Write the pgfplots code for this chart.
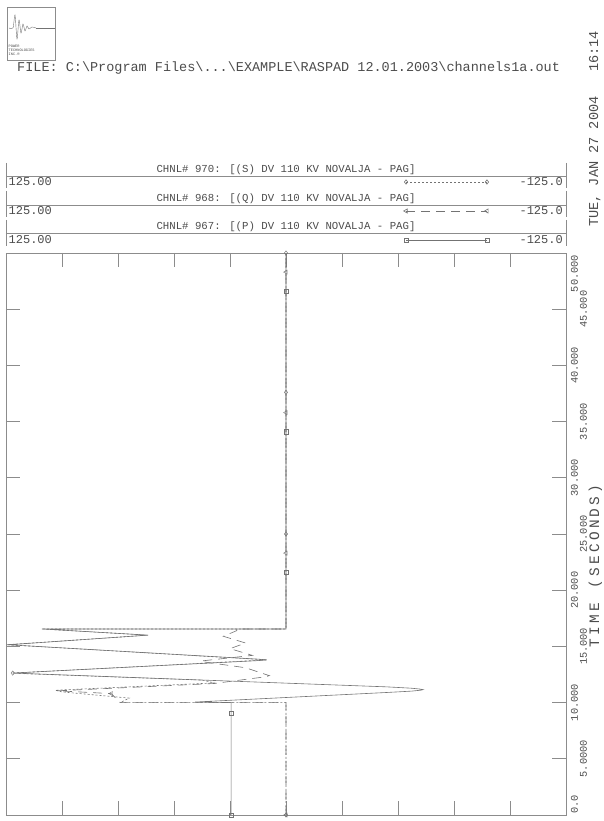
\documentclass[border=0pt]{standalone}
\usepackage{pgfplots}
\pgfplotsset{compat=1.18}
\usepackage{fontspec}
\setmainfont{Liberation Mono}
\definecolor{fr}{gray}{0.55}
\definecolor{cv}{gray}{0.45}
\definecolor{tx}{gray}{0.3}
\newcommand\ls[1]{#1\kern3.2pt}
\begin{document}
\begin{tikzpicture}[x=1pt,y=1pt]
\path[use as bounding box] (0,0) rectangle (604,821);
% logo
\draw[fr,line width=0.5pt] (7,761) rectangle (55,814);
\draw[cv,line width=0.4pt] plot[smooth] coordinates {(9,793)(13,793)(15,806)(17,782)(19,801)(21,788)(23,797)(25,790)(27,795)(29,792)(32,794)(36,793)};
\draw[cv,line width=0.4pt] (36,793) -- (55,793);
\node[tx,anchor=north west,inner sep=0pt,align=left,font=\fontsize{3.6}{4.2}\selectfont] at (8.5,776) {POWER\\TECHNOLOGIES\\INC.\textregistered};
% file line
\node[tx,anchor=base west,inner sep=0pt,font=\fontsize{13.5}{15}\selectfont] at (17,749) {FILE: C:\textbackslash{}Program Files\textbackslash{}...\textbackslash{}EXAMPLE\textbackslash{}RASPAD 12.01.2003\textbackslash{}channels1a.out};
% date
\node[tx,rotate=90,anchor=base,inner sep=0pt,font=\fontsize{13.6}{15}\selectfont] at (598,692) {TUE, JAN 27 2004~~~16:14};
% time label
\node[tx,rotate=90,anchor=base,inner sep=0pt,font=\fontsize{14.4}{16}\selectfont] at (599,255) {\ls{T}\ls{I}\ls{M}\ls{E}\ls{~}\ls{(}\ls{S}\ls{E}\ls{C}\ls{O}\ls{N}\ls{D}\ls{S})};

% channel strips
\begin{axis}[at={(6pt,568pt)},anchor=south west,scale only axis,width=560pt,height=93pt,
 x dir=reverse,xmin=-125,xmax=125,y dir=reverse,ymin=160,ymax=253,hide axis,clip=false]
\draw[fr,line width=0.6pt] (axis cs:125,163) -- (axis cs:125,188);
\draw[fr,line width=0.6pt] (axis cs:-125,163) -- (axis cs:-125,188);
\draw[fr,line width=0.6pt] (axis cs:125,176) -- (axis cs:-125,176);
\draw[fr,line width=0.6pt] (axis cs:125,191) -- (axis cs:125,217);
\draw[fr,line width=0.6pt] (axis cs:-125,191) -- (axis cs:-125,217);
\draw[fr,line width=0.6pt] (axis cs:125,205) -- (axis cs:-125,205);
\draw[fr,line width=0.6pt] (axis cs:125,220) -- (axis cs:125,246);
\draw[fr,line width=0.6pt] (axis cs:-125,220) -- (axis cs:-125,246);
\draw[fr,line width=0.6pt] (axis cs:125,233) -- (axis cs:-125,233);
\node[tx,font=\fontsize{10.7}{12}\selectfont] at (axis cs:0,170) {CHNL\# 970: [(S) DV 110 KV NOVALJA - PAG]};
\node[tx,font=\fontsize{10.7}{12}\selectfont] at (axis cs:0,199) {CHNL\# 968: [(Q) DV 110 KV NOVALJA - PAG]};
\node[tx,font=\fontsize{10.7}{12}\selectfont] at (axis cs:0,227) {CHNL\# 967: [(P) DV 110 KV NOVALJA - PAG]};
\node[tx,anchor=west,inner sep=2.5pt,font=\fontsize{12}{13}\selectfont] at (axis cs:125,182) {125.00};
\node[tx,anchor=west,inner sep=2.5pt,font=\fontsize{12}{13}\selectfont] at (axis cs:125,211) {125.00};
\node[tx,anchor=west,inner sep=2.5pt,font=\fontsize{12}{13}\selectfont] at (axis cs:125,240) {125.00};
\node[tx,anchor=east,inner sep=3pt,font=\fontsize{12}{13}\selectfont] at (axis cs:-125,182) {-125.0};
\node[tx,anchor=east,inner sep=3pt,font=\fontsize{12}{13}\selectfont] at (axis cs:-125,211) {-125.0};
\node[tx,anchor=east,inner sep=3pt,font=\fontsize{12}{13}\selectfont] at (axis cs:-125,240) {-125.0};
\addplot[cv,line width=0.6pt,dash pattern=on 2pt off 2pt,mark=diamond,mark size=2.2pt,mark options={solid}] coordinates {(-53.6,182) (-89.7,182)};
\addplot[cv,line width=0.6pt,dash pattern=on 9pt off 6pt,mark=triangle,mark size=2.4pt,mark options={solid,rotate=90}] coordinates {(-53.6,211) (-89.7,211)};
\addplot[cv,line width=0.6pt,mark=square,mark size=2.1pt] coordinates {(-53.6,240) (-89.7,240)};
\end{axis}

% main plot
\begin{axis}[at={(6pt,6pt)},anchor=south west,scale only axis,width=560pt,height=562pt,
 x dir=reverse,xmin=-125,xmax=125,ymin=0,ymax=50,
 xtick={-100,-75,...,100},xticklabels={},
 ytick={0,5,...,50},
 yticklabels={{\makebox[0pt][l]{\hspace{1pt}0.0}},{\raisebox{-9pt}[0pt][0pt]{5.0000}},{10.000},{\raisebox{-9pt}[0pt][0pt]{15.000}},{20.000},{\raisebox{-9pt}[0pt][0pt]{25.000}},{30.000},{\raisebox{-9pt}[0pt][0pt]{35.000}},{40.000},{\raisebox{-9pt}[0pt][0pt]{45.000}},{\makebox[0pt][r]{50.000\hspace{2pt}}}},
 xtick pos=both,ytick pos=both,yticklabel pos=right,
 tick align=inside,major tick length=14pt,
 axis line style={fr,line width=0.8pt},every tick/.style={fr,line width=0.6pt},
 yticklabel shift=12pt,
 yticklabel style={rotate=90,anchor=base,inner sep=0pt,text=tx,font=\fontsize{10.3}{12}\selectfont},
 clip=false]
% S
\addplot[cv,line width=0.6pt,dash pattern=on 2pt off 2pt] coordinates {(0,0) (0,10) (74,10) (70,10.4) (100,10.95) (103,11.1) (32,11.75) (37.3,12.0) (118,12.58) (122,12.63) (8.5,13.8) (124.6,15.15) (61.6,16.0) (109,16.55) (0,16.55) (0,50)};
% Q
\addplot[cv,line width=0.6pt,dash pattern=on 9pt off 6pt] coordinates {(0,0) (0,10) (74,10) (78,10.8) (102,11.05) (32,11.7) (9,12.3) (7.4,12.4) (9,12.5) (18,13.1) (36,13.6) (38,13.7) (15,14.2) (25,14.8) (18,15.3) (28,15.9) (22,16.4) (22,16.55) (0,16.55) (0,50)};
% P
\addplot[cv,line width=0.6pt] coordinates {(24.5,0) (24.5,10.0) (40.6,10.05) (-45,10.9) (-56,11.02) (-60,11.1) (-61.2,11.15) (-60,11.2) (-56,11.28) (-45,11.4) (118,12.6) (122,12.63) (118,12.67) (12,13.74) (8.5,13.8) (12,13.86) (120,15.1) (124.6,15.15) (120,15.2) (64,15.97) (61.6,16.0) (64,16.03) (109,16.55) (0,16.55) (0,50)};
% markers
\addplot[cv,only marks,mark=square,mark size=2.1pt] coordinates {(24.5,0) (24.5,9.07) (0,21.6) (0,34.1) (0,46.6)};
\addplot[cv,only marks,mark=triangle,mark size=2.4pt,mark options={rotate=90}] coordinates {(0,0) (78,10.8) (0,23.3) (0,35.8) (0,48.3)};
\addplot[cv,only marks,mark=diamond,mark size=2.2pt] coordinates {(0,0) (122,12.63) (0,25) (0,37.6) (0,50)};
\end{axis}
\end{tikzpicture}
\end{document}
